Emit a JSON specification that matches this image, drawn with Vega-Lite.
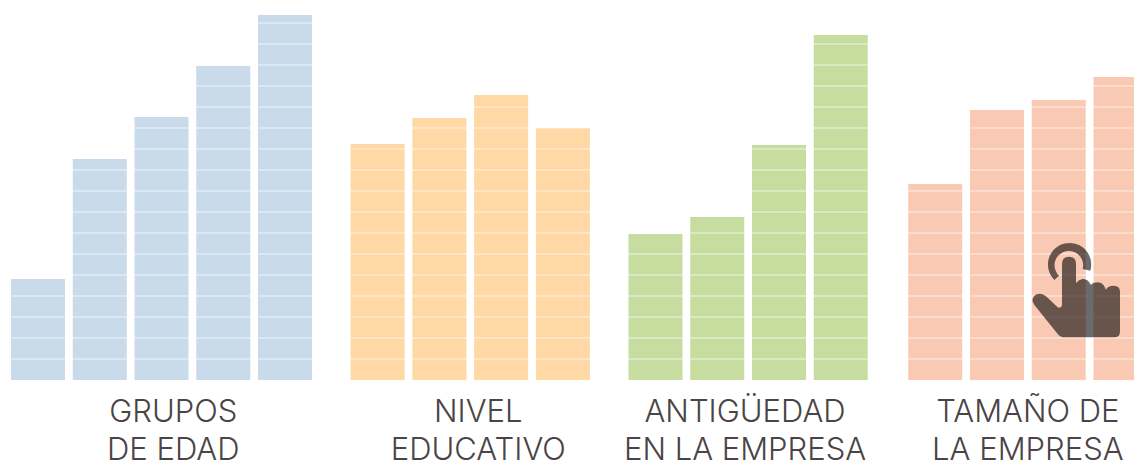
{
  "$schema": "https://vega.github.io/schema/vega-lite/v6.json",
  "autosize": "none",
  "width": 1134,
  "height": 464,
  "padding": 0,
  "background": "#ffffff",
  "config": {"view": {"stroke": null}},
  "datasets": {
    "bars": [
      {"group": "Grupos de edad", "slot": 0, "value": 4.81},
      {"group": "Grupos de edad", "slot": 1, "value": 10.52},
      {"group": "Grupos de edad", "slot": 2, "value": 12.52},
      {"group": "Grupos de edad", "slot": 3, "value": 14.95},
      {"group": "Grupos de edad", "slot": 4, "value": 17.38},
      {"group": "Nivel educativo", "slot": 5.5, "value": 11.24},
      {"group": "Nivel educativo", "slot": 6.5, "value": 12.48},
      {"group": "Nivel educativo", "slot": 7.5, "value": 13.57},
      {"group": "Nivel educativo", "slot": 8.5, "value": 12.0},
      {"group": "Antigüedad", "slot": 10, "value": 6.95},
      {"group": "Antigüedad", "slot": 11, "value": 7.76},
      {"group": "Antigüedad", "slot": 12, "value": 11.19},
      {"group": "Antigüedad", "slot": 13, "value": 16.43},
      {"group": "Tamaño", "slot": 14.53, "value": 9.33},
      {"group": "Tamaño", "slot": 15.53, "value": 12.86},
      {"group": "Tamaño", "slot": 16.53, "value": 13.33},
      {"group": "Tamaño", "slot": 17.53, "value": 14.43}
    ],
    "stripes": [
      {"level": 1}, {"level": 2}, {"level": 3}, {"level": 4}, {"level": 5}, {"level": 6},
      {"level": 7}, {"level": 8}, {"level": 9}, {"level": 10}, {"level": 11}, {"level": 12},
      {"level": 13}, {"level": 14}, {"level": 15}, {"level": 16}, {"level": 17}
    ],
    "captions": [
      {"slot": 2.19, "level": -0.88, "label": "GRUPOS\nDE EDAD"},
      {"slot": 7.13, "level": -0.88, "label": "NIVEL\nEDUCATIVO"},
      {"slot": 11.45, "level": -0.88, "label": "ANTIGÜEDAD\nEN LA EMPRESA"},
      {"slot": 16.03, "level": -0.88, "label": "TAMAÑO DE\nLA EMPRESA"}
    ],
    "pointer": [{"slot": 16.81, "level": 4.3}]
  },
  "encoding": {
    "x": {"field": "slot", "type": "quantitative", "axis": null, "scale": {"domain": [-0.6154, 17.749], "nice": false, "zero": false, "padding": 0}},
    "y": {"field": "level", "type": "quantitative", "axis": null, "scale": {"domain": [-4, 18.095], "nice": false, "zero": false}}
  },
  "layer": [
    {
      "data": {"name": "bars"},
      "mark": {"type": "bar", "width": 54, "clip": true},
      "encoding": {
        "y": {"field": "value", "type": "quantitative", "stack": null, "axis": null, "scale": {"domain": [-4, 18.095], "nice": false, "zero": false}},
        "y2": {"datum": 0},
        "color": {
          "field": "group",
          "type": "nominal",
          "legend": null,
          "scale": {
            "domain": ["Grupos de edad", "Nivel educativo", "Antigüedad", "Tamaño"],
            "range": ["#c9daea", "#fed8a5", "#c6dd9f", "#f9c9b4"]
          }
        }
      }
    },
    {
      "data": {"name": "stripes"},
      "mark": {"type": "rule", "color": "#ffffff", "strokeWidth": 1.1, "opacity": 0.7},
      "encoding": {"x": {"value": 0}, "x2": {"value": 1134}}
    },
    {
      "data": {"name": "pointer"},
      "mark": {
        "type": "point",
        "filled": true,
        "color": "#000000",
        "opacity": 0.58,
        "size": 8950,
        "strokeWidth": 0,
        "shape": "M-0.282 1.007 L0.81 1.007 Q0.93 1.007 0.93 0.887 L0.93 0.042 Q0.93 -0.085 0.796 -0.085 Q0.669 -0.085 0.634 0 Q0.577 -0.155 0.458 -0.155 Q0.352 -0.155 0.317 -0.099 Q0.246 -0.239 0.141 -0.225 Q0.056 -0.211 0 -0.141 L0 -0.542 Q0 -0.697 -0.148 -0.697 Q-0.296 -0.697 -0.296 -0.542 L-0.296 0.324 Q-0.317 0.408 -0.387 0.373 L-0.634 0.141 Q-0.739 0.042 -0.859 0.113 Q-0.972 0.197 -0.88 0.324 L-0.387 0.937 Q-0.338 1.007 -0.282 1.007 Z M-0.458 -0.204 A0.458 0.458 0 1 1 0.303 -0.401 L0.141 -0.437 A0.303 0.303 0 1 0 -0.359 -0.296 Z"
      }
    },
    {
      "data": {"name": "captions"},
      "mark": {
        "type": "text",
        "font": "Inter",
        "fontWeight": 300,
        "fontSize": 31,
        "color": "#4a4446",
        "align": "center",
        "baseline": "top",
        "lineBreak": "\n",
        "lineHeight": 38
      },
      "encoding": {"text": {"field": "label", "type": "nominal"}}
    }
  ]
}
